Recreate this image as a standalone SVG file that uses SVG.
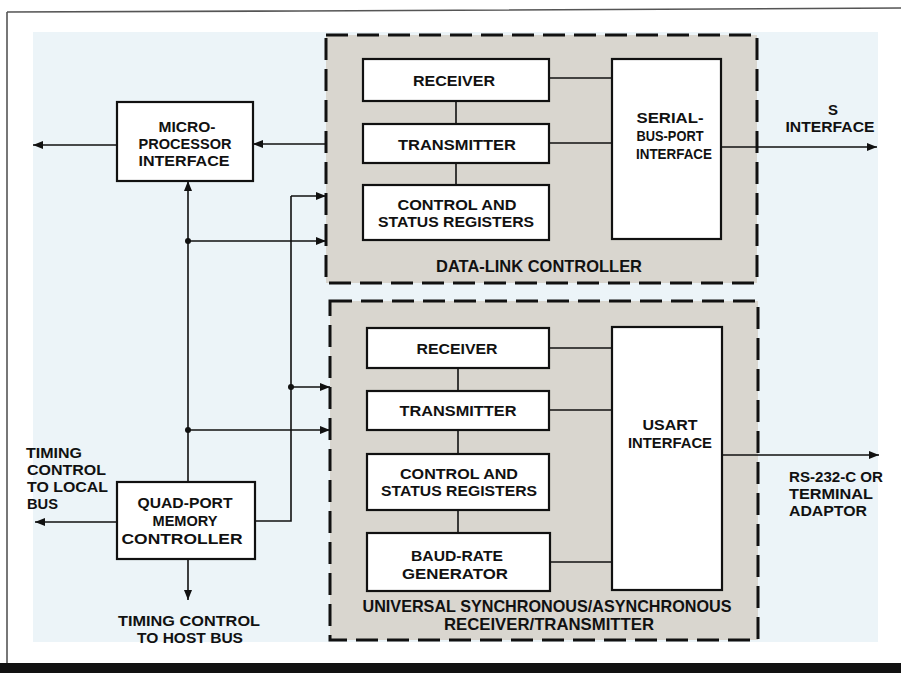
<svg xmlns="http://www.w3.org/2000/svg" width="901" height="673" viewBox="0 0 901 673">
<defs>
<style>
text{font-family:"Liberation Sans",Arial,sans-serif;font-weight:bold;fill:#111;text-anchor:middle}
.t{font-size:15px}
.h{font-size:16.5px}
.l{text-anchor:start}
.box{fill:#fff;stroke:#111;stroke-width:2.2}
.dash{fill:#d9d6cf;stroke:#111;stroke-width:3;stroke-dasharray:22 9}
.w{fill:none;stroke:#111;stroke-width:1.6}
.arr{fill:none;stroke:#111;stroke-width:1.6;marker-end:url(#ah)}
.dot{fill:#111}
</style>
<marker id="ah" viewBox="0 0 10 8" refX="10" refY="4" markerWidth="11" markerHeight="8" markerUnits="userSpaceOnUse" orient="auto">
<path d="M0,0 L10,4 L0,8 Z" fill="#111"/>
</marker>
</defs>
<rect x="0" y="0" width="901" height="673" fill="#fff"/>
<rect x="33" y="32" width="845" height="610" fill="#ecf4f8"/>
<polyline points="7,12 300,11 901,8" fill="none" stroke="#555" stroke-width="1.6"/>
<line x1="7" y1="12" x2="7" y2="665" stroke="#555" stroke-width="1.6"/>
<rect x="0" y="663" width="901" height="10" fill="#111"/>

<g id="dlc">
<rect class="dash" x="326" y="35" width="431" height="248"/>
<text class="h" x="539" y="272" textLength="206" lengthAdjust="spacingAndGlyphs">DATA-LINK CONTROLLER</text>
</g>
<g id="usart">
<rect class="dash" x="330" y="301" width="428" height="339"/>
<text class="h" x="547" y="612" textLength="369" lengthAdjust="spacingAndGlyphs">UNIVERSAL SYNCHRONOUS/ASYNCHRONOUS</text>
<text class="h" x="549" y="630" textLength="210" lengthAdjust="spacingAndGlyphs">RECEIVER/TRANSMITTER</text>
</g>

<g id="connectors">
<line class="w" x1="456" y1="101" x2="456" y2="124"/>
<line class="w" x1="456" y1="163" x2="456" y2="185"/>
<line class="w" x1="549" y1="78" x2="612" y2="78"/>
<line class="w" x1="549" y1="143" x2="612" y2="143"/>
<line class="arr" x1="721" y1="147" x2="877" y2="147"/>
<line class="w" x1="458" y1="368" x2="458" y2="391"/>
<line class="w" x1="458" y1="430" x2="458" y2="454"/>
<line class="w" x1="458" y1="510" x2="458" y2="533"/>
<line class="w" x1="549" y1="348" x2="612" y2="348"/>
<line class="w" x1="549" y1="410" x2="612" y2="410"/>
<line class="w" x1="550" y1="562" x2="612" y2="562"/>
<line class="arr" x1="722" y1="455" x2="879" y2="455"/>
<line class="arr" x1="117" y1="145" x2="33" y2="145"/>
<line class="arr" x1="326" y1="144" x2="253" y2="144"/>
<line class="arr" x1="188" y1="482" x2="188" y2="181"/>
<line class="arr" x1="188" y1="241" x2="326" y2="241"/>
<polyline class="w" points="255,521 291,521 291,196"/>
<line class="arr" x1="291" y1="196" x2="326" y2="196"/>
<line class="arr" x1="291" y1="387" x2="330" y2="387"/>
<line class="arr" x1="188" y1="430" x2="330" y2="430"/>
<line class="arr" x1="117" y1="522" x2="35" y2="522"/>
<line class="arr" x1="188" y1="559" x2="188" y2="600"/>
<circle class="dot" cx="188" cy="241" r="3"/>
<circle class="dot" cx="188" cy="430" r="3"/>
<circle class="dot" cx="291" cy="387" r="3"/>
</g>

<g id="mpi">
<rect class="box" x="117" y="102" width="136" height="79"/>
<text class="t" x="187" y="132" textLength="57" lengthAdjust="spacingAndGlyphs">MICRO-</text>
<text class="t" x="185" y="149" textLength="93" lengthAdjust="spacingAndGlyphs">PROCESSOR</text>
<text class="t" x="184" y="166" textLength="91" lengthAdjust="spacingAndGlyphs">INTERFACE</text>
</g>

<g id="dlc-receiver">
<rect class="box" x="363" y="59" width="186" height="42"/>
<text class="t" x="454" y="86" textLength="82" lengthAdjust="spacingAndGlyphs">RECEIVER</text>
</g>
<g id="dlc-transmitter">
<rect class="box" x="363" y="124" width="186" height="39"/>
<text class="t" x="457" y="149.5" textLength="118" lengthAdjust="spacingAndGlyphs">TRANSMITTER</text>
</g>
<g id="dlc-registers">
<rect class="box" x="363" y="185" width="186" height="55"/>
<text class="t" x="457" y="210" textLength="119" lengthAdjust="spacingAndGlyphs">CONTROL AND</text>
<text class="t" x="456" y="227" textLength="156" lengthAdjust="spacingAndGlyphs">STATUS REGISTERS</text>
</g>
<g id="serial-bus-port">
<rect class="box" x="612" y="59" width="109" height="180"/>
<text class="t" x="670" y="123" textLength="67" lengthAdjust="spacingAndGlyphs">SERIAL-</text>
<text class="t" x="670" y="141" textLength="67" lengthAdjust="spacingAndGlyphs">BUS-PORT</text>
<text class="t" x="674" y="159" textLength="76" lengthAdjust="spacingAndGlyphs">INTERFACE</text>
</g>

<g id="s-interface">
<text class="t" x="833" y="115">S</text>
<text class="t" x="830" y="132" textLength="89" lengthAdjust="spacingAndGlyphs">INTERFACE</text>
</g>

<g id="usart-receiver">
<rect class="box" x="367" y="328" width="182" height="40"/>
<text class="t" x="457" y="354" textLength="81" lengthAdjust="spacingAndGlyphs">RECEIVER</text>
</g>
<g id="usart-transmitter">
<rect class="box" x="367" y="391" width="182" height="39"/>
<text class="t" x="458" y="416" textLength="117" lengthAdjust="spacingAndGlyphs">TRANSMITTER</text>
</g>
<g id="usart-registers">
<rect class="box" x="367" y="454" width="182" height="56"/>
<text class="t" x="459" y="479" textLength="118" lengthAdjust="spacingAndGlyphs">CONTROL AND</text>
<text class="t" x="459" y="496" textLength="156" lengthAdjust="spacingAndGlyphs">STATUS REGISTERS</text>
</g>
<g id="baud-rate">
<rect class="box" x="367" y="533" width="183" height="58"/>
<text class="t" x="457" y="561" textLength="92" lengthAdjust="spacingAndGlyphs">BAUD-RATE</text>
<text class="t" x="455" y="579" textLength="106" lengthAdjust="spacingAndGlyphs">GENERATOR</text>
</g>
<g id="usart-interface">
<rect class="box" x="612" y="327" width="110" height="263"/>
<text class="t" x="670" y="430" textLength="55" lengthAdjust="spacingAndGlyphs">USART</text>
<text class="t" x="670" y="448" textLength="84" lengthAdjust="spacingAndGlyphs">INTERFACE</text>
</g>

<g id="rs232">
<text class="t l" x="789" y="482" textLength="94" lengthAdjust="spacingAndGlyphs">RS-232-C OR</text>
<text class="t l" x="789" y="499" textLength="84" lengthAdjust="spacingAndGlyphs">TERMINAL</text>
<text class="t l" x="789" y="516" textLength="78" lengthAdjust="spacingAndGlyphs">ADAPTOR</text>
</g>

<g id="qpmc">
<rect class="box" x="117" y="482" width="138" height="77"/>
<text class="t" x="185" y="508" textLength="95" lengthAdjust="spacingAndGlyphs">QUAD-PORT</text>
<text class="t" x="185" y="526" textLength="65" lengthAdjust="spacingAndGlyphs">MEMORY</text>
<text class="t" x="182" y="544" textLength="121" lengthAdjust="spacingAndGlyphs">CONTROLLER</text>
</g>

<g id="local-bus">
<text class="t l" x="26" y="458" textLength="56" lengthAdjust="spacingAndGlyphs">TIMING</text>
<text class="t l" x="27" y="475" textLength="79" lengthAdjust="spacingAndGlyphs">CONTROL</text>
<text class="t l" x="27" y="492" textLength="81" lengthAdjust="spacingAndGlyphs">TO LOCAL</text>
<text class="t l" x="27" y="509" textLength="31" lengthAdjust="spacingAndGlyphs">BUS</text>
</g>

<g id="host-bus">
<text class="t" x="189" y="626" textLength="142" lengthAdjust="spacingAndGlyphs">TIMING CONTROL</text>
<text class="t" x="190" y="643" textLength="106" lengthAdjust="spacingAndGlyphs">TO HOST BUS</text>
</g>
</svg>
